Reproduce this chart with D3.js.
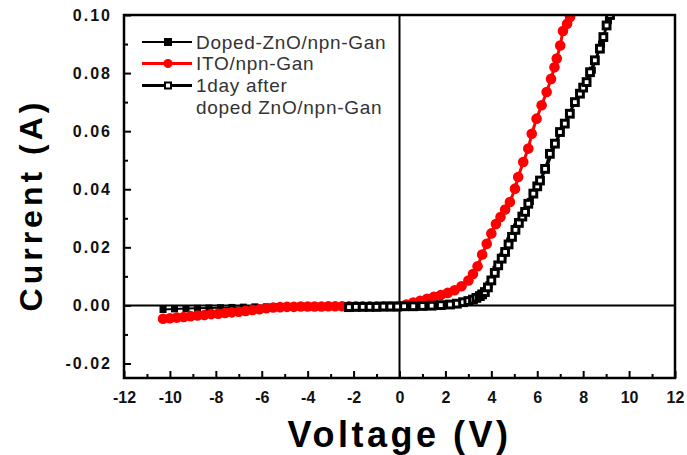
<!DOCTYPE html>
<html>
<head>
<meta charset="utf-8">
<script src="https://cdnjs.cloudflare.com/ajax/libs/d3/7.8.5/d3.min.js"></script>
<style>
  body { margin: 0; background: #fff; }
  svg { display: block; font-family: "Liberation Sans", Arial, sans-serif; }
</style>
</head>
<body>
<div id="chart"></div>
<script>
// I-V curves

var seriesNames = ["Doped-ZnO/npn-Gan", "ITO/npn-Gan", "1day after", "doped ZnO/npn-Gan"];

// filled black squares (mostly hidden under the other two)
var dopedV = [-10.3, -9.8, -9.3, -8.8, -8.3, -7.8, -7.3, -6.8, -6.3, -5.8, -5.3, -4.8, -4.3, -3.8, -3.3, -2.8, -2.3, -1.8, -1.3, -0.8, -0.3, 0.2, 0.7, 1.2, 1.7, 2.2, 2.7, 3.0, 3.3, 3.6, 3.9, 4.2, 4.5, 4.8, 5.1, 5.4, 5.7, 6.0, 6.4, 6.8, 7.2, 7.6, 8.0, 8.4, 8.8, 9.1];
var dopedI = [-0.0014, -0.0012, -0.0011, -0.0010, -0.0009, -0.0008, -0.0007, -0.0006, -0.0005, -0.0005, -0.0004, -0.0004, -0.0004, -0.0004, -0.0004, -0.0004, -0.0004, -0.0004, -0.0004, -0.0004, -0.0003, -0.0002, -0.0001, 0.0000, 0.0001, 0.0003, 0.0009, 0.0014, 0.0022, 0.0036, 0.0072, 0.0124, 0.0170, 0.0222, 0.0270, 0.0310, 0.0358, 0.0410, 0.0470, 0.0555, 0.0625, 0.0700, 0.0750, 0.0810, 0.0900, 0.0980];

// red ITO curve
var itoV = [-10.3, -10.0, -9.7, -9.4, -9.1, -8.8, -8.5, -8.2, -7.9, -7.6, -7.3, -7.0, -6.7, -6.4, -6.1, -5.8, -5.5, -5.2, -4.9, -4.6, -4.3, -4.0, -3.7, -3.4, -3.1, -2.8, -2.5, -2.2, -1.9, -1.6, -1.3, -1.0, -0.7, -0.4, -0.1, 0.3, 0.6, 0.9, 1.2, 1.5, 1.8, 2.1, 2.4, 2.7, 3.0, 3.2, 3.4, 3.6, 3.8, 4.0, 4.2, 4.4, 4.6, 4.81, 5.03, 5.17, 5.39, 5.61, 5.76, 5.97, 6.19, 6.41, 6.6, 6.75, 6.85, 7.0, 7.12, 7.3, 7.43];
var itoI = [-0.0046, -0.0044, -0.0042, -0.0040, -0.0037, -0.0035, -0.0033, -0.0030, -0.0029, -0.0026, -0.0024, -0.0022, -0.0019, -0.0016, -0.0013, -0.0010, -0.0007, -0.0006, -0.0005, -0.0005, -0.0004, -0.0004, -0.0004, -0.0004, -0.0003, -0.0003, -0.0003, -0.0003, -0.0003, -0.0003, -0.0003, -0.0003, -0.0003, -0.0003, -0.0003, 0.0003, 0.0010, 0.0016, 0.0023, 0.0030, 0.0036, 0.0043, 0.0052, 0.0066, 0.0086, 0.0108, 0.0135, 0.0175, 0.0212, 0.0248, 0.0280, 0.0304, 0.0330, 0.0356, 0.0402, 0.0442, 0.0494, 0.0540, 0.0591, 0.0643, 0.0689, 0.0735, 0.0780, 0.0820, 0.0850, 0.0895, 0.0945, 0.0970, 0.0993];

// open squares, one day later
var dayV = [-2.2, -1.9, -1.6, -1.3, -1.0, -0.7, -0.4, -0.1, 0.2, 0.6, 1.0, 1.4, 1.8, 2.2, 2.5, 2.77, 3.0, 3.2, 3.35, 3.5, 3.6, 3.72, 3.85, 4.0, 4.15, 4.3, 4.45, 4.6, 4.75, 4.9, 5.05, 5.2, 5.35, 5.47, 5.61, 5.83, 6.0, 6.12, 6.34, 6.55, 6.77, 6.99, 7.2, 7.42, 7.64, 7.86, 8.0, 8.15, 8.3, 8.51, 8.73, 8.88, 9.02, 9.17];
var dayI = [-0.0006, -0.0005, -0.0005, -0.0005, -0.0005, -0.0004, -0.0004, -0.0004, -0.0003, -0.0003, -0.0002, -0.0001, 0.0001, 0.0003, 0.0006, 0.0011, 0.0015, 0.0020, 0.0026, 0.0032, 0.0038, 0.0046, 0.0062, 0.0086, 0.0112, 0.0138, 0.0161, 0.0184, 0.0210, 0.0236, 0.0260, 0.0284, 0.0306, 0.0322, 0.0350, 0.0385, 0.0410, 0.0430, 0.0470, 0.0522, 0.0557, 0.0597, 0.0626, 0.0660, 0.0700, 0.0729, 0.0750, 0.0769, 0.0803, 0.0844, 0.0884, 0.0924, 0.0964, 0.1000];

var xMajor = [-12, -10, -8, -6, -4, -2, 0, 2, 4, 6, 8, 10, 12];
var xMinor = [-11, -9, -7, -5, -3, -1, 1, 3, 5, 7, 9, 11];
var yMajor = [-0.02, 0.00, 0.02, 0.04, 0.06, 0.08, 0.10];
var yMinor = [-0.01, 0.01, 0.03, 0.05, 0.07, 0.09];

var width = 687;
var height = 455;
var margin = {top: 15, right: 12, bottom: 77, left: 124};

var svg = d3.select("#chart")
	.append("svg")
	.attr("width", width)
	.attr("height", height);

var x = d3.scaleLinear()
	.domain([-12, 12])
	.range([margin.left, width - margin.right]);

var y = d3.scaleLinear()
	.domain([-0.025, 0.10])
	.range([height - margin.bottom, margin.top]);

function zip(vs, is){
	return vs.map(function(v, k){ return {v: v, i: is[k]}; });
}

var doped = zip(dopedV, dopedI);
var ito = zip(itoV, itoI);
var day = zip(dayV, dayI);

svg.append("clipPath")
	.attr("id", "plotClip")
	.append("rect")
	.attr("x", x(-12))
	.attr("y", y(0.10))
	.attr("width", x(12) - x(-12))
	.attr("height", y(-0.025) - y(0.10));

// zero lines
svg.append("line")
	.attr("x1", x(-12)).attr("x2", x(12))
	.attr("y1", y(0)).attr("y2", y(0))
	.style("stroke", "#000").style("stroke-width", 2);
svg.append("line")
	.attr("x1", x(0)).attr("x2", x(0))
	.attr("y1", y(0.10)).attr("y2", y(-0.025))
	.style("stroke", "#000").style("stroke-width", 2);

var plot = svg.append("g").attr("clip-path", "url(#plotClip)");
var line = d3.line().x(d => x(d.v)).y(d => y(d.i));

// Doped-ZnO: filled black squares
plot.append("path")
	.datum(doped)
	.attr("d", line)
	.style("fill", "none").style("stroke", "#000").style("stroke-width", 2);
plot.selectAll("rect.doped")
	.data(doped)
	.enter()
	.append("rect")
	.attr("class", "doped")
	.attr("x", d => x(d.v) - 3.5)
	.attr("y", d => y(d.i) - 3.5)
	.attr("width", 7)
	.attr("height", 7)
	.style("fill", "#000");

// ITO: red dots
plot.append("path")
	.datum(ito)
	.attr("d", line)
	.style("fill", "none").style("stroke", "#f00").style("stroke-width", 3);
plot.selectAll("circle.ito")
	.data(ito)
	.enter()
	.append("circle")
	.attr("class", "ito")
	.attr("cx", d => x(d.v))
	.attr("cy", d => y(d.i))
	.attr("r", 5.3)
	.style("fill", "#f00");

// 1 day after: open squares
plot.append("path")
	.datum(day)
	.attr("d", line)
	.style("fill", "none").style("stroke", "#000").style("stroke-width", 2.5);
plot.selectAll("rect.day")
	.data(day)
	.enter()
	.append("rect")
	.attr("class", "day")
	.attr("x", d => x(d.v) - 3.4)
	.attr("y", d => y(d.i) - 3.4)
	.attr("width", 6.8)
	.attr("height", 6.8)
	.style("fill", "#fff")
	.style("stroke", "#000")
	.style("stroke-width", 3);

// axes, ticks pointing inwards
var xAxis = svg.append("g")
	.attr("transform", "translate(0," + y(-0.025) + ")")
	.call(d3.axisBottom(x).tickValues(xMajor).tickSize(-7).tickPadding(14).tickFormat(d => String(d)));
svg.append("g")
	.attr("transform", "translate(0," + y(-0.025) + ")")
	.call(d3.axisBottom(x).tickValues(xMinor).tickSize(-4).tickFormat(""));

var yAxis = svg.append("g")
	.attr("transform", "translate(" + x(-12) + ",0)")
	.call(d3.axisLeft(y).tickValues(yMajor).tickSize(-7).tickPadding(12).tickFormat(d => d.toFixed(2)));
svg.append("g")
	.attr("transform", "translate(" + x(-12) + ",0)")
	.call(d3.axisLeft(y).tickValues(yMinor).tickSize(-4).tickFormat(""));

svg.selectAll(".domain").remove();
svg.selectAll(".tick line").style("stroke", "#000").style("stroke-width", 2);

xAxis.selectAll("text")
	.style("font-size", "16px")
	.style("font-weight", "bold")
	.style("fill", "#111");
yAxis.selectAll("text")
	.style("font-size", "16px")
	.style("font-weight", "bold")
	.style("letter-spacing", "2px")
	.style("fill", "#111");

// frame
svg.append("rect")
	.attr("x", x(-12))
	.attr("y", y(0.10))
	.attr("width", x(12) - x(-12))
	.attr("height", y(-0.025) - y(0.10))
	.style("fill", "none")
	.style("stroke", "#000")
	.style("stroke-width", 2.5);

// axis titles
svg.append("text")
	.attr("x", (x(-12) + x(12)) / 2)
	.attr("y", 447)
	.style("text-anchor", "middle")
	.style("font-size", "36px")
	.style("font-weight", "bold")
	.style("letter-spacing", "3.5px")
	.text("Voltage (V)");

svg.append("text")
	.attr("transform", "translate(42,205) rotate(-90)")
	.style("text-anchor", "middle")
	.style("font-size", "32px")
	.style("font-weight", "bold")
	.style("letter-spacing", "4px")
	.text("Current (A)");

// legend
var legend = svg.append("g").attr("class", "legend");
var rows = [
	{label: seriesNames[0], y: 48.5, kind: "filled"},
	{label: seriesNames[1], y: 70, kind: "dot"},
	{label: seriesNames[2], y: 92, kind: "open"},
	{label: seriesNames[3], y: 114, kind: "none"}
];

rows.forEach(function(r){
	var ly = r.y - 6.5;
	if (r.kind != "none") {
		legend.append("line")
			.attr("x1", 142).attr("x2", 192)
			.attr("y1", ly).attr("y2", ly)
			.style("stroke", r.kind == "dot" ? "#f00" : "#000")
			.style("stroke-width", r.kind == "filled" ? 2 : 3);
	}
	if (r.kind == "filled") {
		legend.append("rect")
			.attr("x", 164).attr("y", ly - 4)
			.attr("width", 8).attr("height", 8)
			.style("fill", "#000");
	} else if (r.kind == "dot") {
		legend.append("circle")
			.attr("cx", 168).attr("cy", ly)
			.attr("r", 4.5)
			.style("fill", "#f00");
	} else if (r.kind == "open") {
		legend.append("rect")
			.attr("x", 165).attr("y", ly - 3)
			.attr("width", 6).attr("height", 6)
			.style("fill", "#fff")
			.style("stroke", "#000")
			.style("stroke-width", 2);
	}
	legend.append("text")
		.attr("x", 196)
		.attr("y", r.y)
		.style("font-size", "19px")
		.style("letter-spacing", "0.7px")
		.style("fill", "#333")
		.text(r.label);
});
</script>
</body>
</html>
